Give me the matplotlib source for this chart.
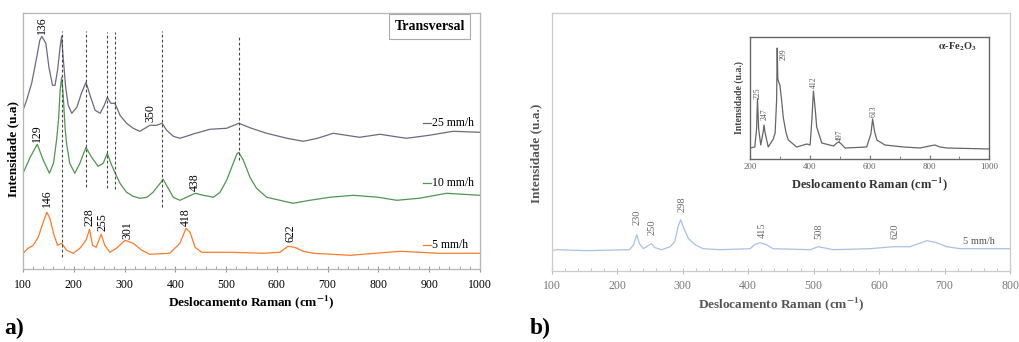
import numpy as np
import matplotlib.pyplot as plt
from matplotlib.ticker import MultipleLocator

plt.rcParams['font.family'] = ['Liberation Serif', 'DejaVu Serif']
plt.rcParams['mathtext.fontset'] = 'stix'

# ---------------- panel a data (stacked spectra, arbitrary units) ----------------
w_25 = [100, 107, 117, 127, 133, 137, 145, 151, 158, 163, 168, 173, 176, 179, 184, 189,
        196, 206, 215, 224, 232, 242, 252, 260, 266, 273, 281, 291, 304, 317, 330, 350,
        363, 374, 383, 396, 409, 440, 468, 501, 525, 550, 580, 620, 652, 680, 711, 763,
        803, 855, 900, 947, 1000]
i_25 = [159, 169, 186, 212, 229, 233, 226, 202, 184, 184, 199, 222, 233, 212, 182, 164,
        156, 162, 176, 187, 174, 159, 156, 164, 172, 166, 166, 154, 146, 141, 138, 144,
        144, 146, 139, 133, 131, 136, 140, 141, 146, 141, 136, 131, 128, 131, 136, 132,
        135, 131, 134, 138, 137]

w_10 = [100, 114, 128, 140, 152, 160, 166, 170, 173, 176, 179, 183, 186, 192, 202, 212,
        224, 235, 248, 258, 266, 273, 279, 291, 304, 317, 330, 344, 356, 370, 376, 386,
        396, 409, 439, 455, 475, 488, 501, 511, 521, 525, 534, 547, 560, 580, 632, 665,
        704, 751, 800, 836, 880, 934, 1000]
i_10 = [96, 112, 125, 109, 96, 106, 129, 150, 178, 192, 175, 140, 125, 106, 96, 106,
        122, 112, 103, 106, 116, 106, 99, 86, 77, 73, 71, 72, 77, 86, 90, 81,
        72, 69, 76, 74, 72, 77, 89, 102, 115, 117, 109, 92, 81, 72, 66, 69,
        72, 74, 72, 69, 71, 76, 74]

w_5 = [100, 110, 120, 130, 139, 147, 153, 160, 168, 176, 186, 199, 212, 224, 231, 237,
       244, 254, 261, 271, 284, 301, 317, 334, 350, 389, 409, 421, 429, 439, 452, 507,
       573, 606, 622, 635, 652, 672, 744, 843, 920, 1000]
i_5 = [16, 21, 24, 32, 46, 57, 51, 36, 24, 26, 19, 16, 21, 29, 40, 24,
       22, 35, 24, 17, 21, 29, 26, 19, 15, 16, 26, 41, 37, 22, 17, 17,
       16, 17, 23, 22, 18, 16, 14, 18, 16, 16]

# dashed reference lines: position, lower and upper end
ref_pos = [176, 224, 266, 281, 374, 525]
ref_lo = [12, 82, 81, 80, 62, 109]
ref_hi = [238, 238, 237, 237, 238, 234]

peak_txt_a = ['136', '129', '350', '438', '146', '228', '255', '301', '418', '622']
peak_x_a = [138, 127, 350, 438, 148, 230, 257, 305, 420, 627]
peak_y_a = [244, 136, 156, 87, 71, 52, 47, 39, 52, 36]

series_names = ['25 mm/h', '10 mm/h', '5 mm/h']
series_y = [146, 86, 24]

# ---------------- panel b data ----------------
w_b = [100, 108, 153, 219, 225, 230, 234, 240, 247, 252, 258, 268, 281, 288, 293, 297,
       302, 309, 319, 331, 357, 403, 410, 418, 428, 438, 495, 507, 530, 586, 622, 647,
       660, 673, 688, 703, 724, 800]
i_b = [20, 21, 20, 21, 26, 36, 27, 22, 25, 27, 23, 21, 24, 29, 44, 51,
       42, 32, 26, 22, 21, 22, 26, 28, 26, 22, 21, 24, 21, 22, 24, 24,
       27, 30, 28, 24, 22, 22]
peak_txt_b = ['230', '250', '298', '415', '508', '620']
peak_x_b = [231, 253, 299, 421, 508, 624]
peak_y_b = [53, 43, 66, 41, 39, 39]

# inset: hematite reference
w_in = [200, 216, 222, 225, 229, 236, 244, 247, 250, 261, 278, 284, 289, 291, 293, 297,
        300, 306, 311, 320, 328, 356, 390, 401, 407, 412, 418, 423, 440, 479, 490, 497,
        505, 518, 590, 604, 610, 616, 624, 651, 713, 768, 800, 818, 835, 858, 1000]
i_in = [11, 12, 30, 60, 30, 14, 27, 34, 27, 12, 20, 26, 59, 111, 80, 76,
        74, 58, 42, 27, 19, 12, 15, 14, 40, 68, 50, 32, 16, 13, 16, 17,
        15, 11, 12, 25, 40, 28, 19, 14, 12, 11, 13, 14, 12, 11, 10]
peak_txt_in = ['225', '247', '299', '412', '497', '613']
peak_x_in = [224, 250, 312, 412, 500, 614]
peak_y_in = [66, 45, 105, 77, 24, 48]

c_25, c_10, c_5, c_b = '#6c6a80', '#4f9650', '#ff7a26', '#a8c2e4'

fig = plt.figure(figsize=(10.19, 3.42), dpi=100)

# ---------------- a) ----------------
ax = fig.add_axes([0.0226, 0.2126, 0.4484, 0.7503])
ax.plot(w_25, i_25, color=c_25, lw=0.9)
ax.plot(w_10, i_10, color=c_10, lw=0.9)
ax.plot(w_5, i_5, color=c_5, lw=0.9)
for p, lo, hi in zip(ref_pos, ref_lo, ref_hi):
    ax.plot([p, p], [lo, hi], ls=(0, (2.5, 2)), color='#444444', lw=0.8)
for t, x, y in zip(peak_txt_a, peak_x_a, peak_y_a):
    ax.text(x, y, t, rotation=90, ha='center', va='center', fontsize=8.5)
for name, y, c in zip(series_names, series_y, [c_25, c_10, c_5]):
    ax.plot([887, 903], [y, y], color=c, lw=0.9)
    ax.text(905, y, name, ha='left', va='center', fontsize=8.5)
ax.text(0.89, 0.946, 'Transversal', transform=ax.transAxes, ha='center', va='center',
        fontsize=10, fontweight='bold',
        bbox=dict(boxstyle='square,pad=0.4', fc='white', ec='#aaaaaa', lw=0.8))
ax.set_xlim(100, 1000)
ax.set_ylim(0, 256.6)
ax.set_yticks([])
ax.xaxis.set_major_locator(MultipleLocator(100))
ax.xaxis.set_minor_locator(MultipleLocator(20))
ax.tick_params(axis='x', which='major', direction='inout', length=4, color='#999999',
               labelsize=8.5, pad=5)
ax.tick_params(axis='x', which='minor', direction='in', length=2.5, color='#999999')
for s in ax.spines.values():
    s.set_color('#b5b5b5')
    s.set_linewidth(0.9)
ax.set_xlabel('Deslocamento Raman (cm$^{\\mathbf{-1}}$)', fontsize=9.5, fontweight='bold',
              labelpad=2)
fig.text(13 / 1019, 1 - 149 / 342, 'Intensidade (u.a)', rotation=90, ha='center',
         va='center', fontsize=9.5, fontweight='bold')
fig.text(14 / 1019, 1 - 328 / 342, 'a)', ha='center', va='center', fontsize=17,
         fontweight='bold')

# ---------------- b) ----------------
bx = fig.add_axes([0.5414, 0.2085, 0.4498, 0.7544])
bx.plot(w_b, i_b, color=c_b, lw=0.9)
for t, x, y in zip(peak_txt_b, peak_x_b, peak_y_b):
    bx.text(x, y, t, rotation=90, ha='center', va='center', fontsize=7.5, color='#666666')
bx.text(728, 29, '5 mm/h', ha='left', va='center', fontsize=7.5, color='#555555')
bx.set_xlim(100, 800)
bx.set_ylim(0, 258)
bx.set_yticks([])
bx.xaxis.set_major_locator(MultipleLocator(100))
bx.xaxis.set_minor_locator(MultipleLocator(20))
bx.tick_params(axis='x', which='major', direction='inout', length=4, color='#bbbbbb',
               labelsize=8.5, labelcolor='#777777', pad=5)
bx.tick_params(axis='x', which='minor', direction='in', length=2.5, color='#bbbbbb')
for s in bx.spines.values():
    s.set_color('#cccccc')
    s.set_linewidth(0.9)
bx.set_xlabel('Deslocamento Raman (cm$^{\\mathbf{-1}}$)', fontsize=9.5, fontweight='bold',
              color='#555555', labelpad=2)
fig.text(536 / 1019, 1 - 153 / 342, 'Intensidade (u.a.)', rotation=90, ha='center',
         va='center', fontsize=9.5, fontweight='bold', color='#555555')
fig.text(540 / 1019, 1 - 328 / 342, 'b)', ha='center', va='center', fontsize=17,
         fontweight='bold')

# inset
ix = fig.add_axes([0.7360, 0.5351, 0.2349, 0.3567])
ix.plot(w_in, i_in, color='#666666', lw=0.9)
for t, x, y in zip(peak_txt_in, peak_x_in, peak_y_in):
    ix.text(x, y, t, rotation=90, ha='center', va='center', fontsize=5.5, color='#555555')
ix.text(0.865, 0.92, '$\\mathbf{\\alpha}$-Fe$_\\mathbf{2}$O$_\\mathbf{3}$',
        transform=ix.transAxes, ha='center', va='center', fontsize=7.5, fontweight='bold',
        color='#333333')
ix.set_xlim(200, 1000)
ix.set_ylim(0, 122)
ix.set_yticks([])
ix.xaxis.set_major_locator(MultipleLocator(200))
ix.xaxis.set_minor_locator(MultipleLocator(100))
ix.tick_params(axis='x', which='major', direction='in', length=3, color='#777777',
               labelsize=6.5, labelcolor='#666666', pad=3)
ix.tick_params(axis='x', which='minor', direction='in', length=2, color='#777777')
for s in ix.spines.values():
    s.set_color('#666666')
    s.set_linewidth(1.0)
ix.set_xlabel('Deslocamento Raman (cm$^{\\mathbf{-1}}$)', fontsize=9, fontweight='bold',
              color='#333333', labelpad=3)
ix.set_ylabel('Intensidade (u.a.)', fontsize=7, fontweight='bold', color='#444444',
              labelpad=4)

fig.savefig('out.png', dpi=100)
